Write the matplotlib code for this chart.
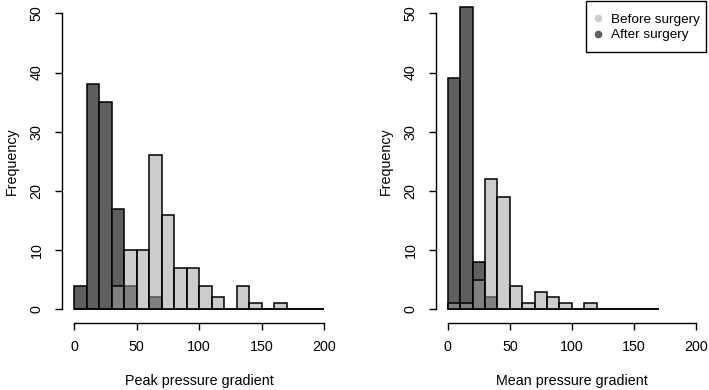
import numpy as np
import matplotlib
matplotlib.use("Agg")
import matplotlib.pyplot as plt
from matplotlib.lines import Line2D
from matplotlib.patches import Rectangle

plt.rcParams['font.family'] = ['Liberation Sans', 'DejaVu Sans']

# ---- data (counts per 10-unit bin) ----
peak_edges = np.arange(0, 210, 10)          # 0..200
peak_before = [0, 0, 0, 4, 10, 10, 26, 16, 7, 7, 4, 2, 0, 4, 1, 0, 1, 0, 0, 0]
peak_after  = [4, 38, 35, 17, 4, 0, 2, 0, 0, 0, 0, 0, 0, 0, 0, 0, 0, 0, 0, 0]

mean_edges = np.arange(0, 180, 10)          # 0..170
mean_before = [1, 1, 5, 22, 19, 4, 1, 3, 2, 1, 0, 1, 0, 0, 0, 0, 0]
mean_after  = [39, 51, 8, 2, 0, 0, 0, 0, 0, 0, 0, 0, 0, 0, 0, 0, 0]

x_ticks = [0, 50, 100, 150, 200]
y_ticks = [0, 10, 20, 30, 40, 50]
x_labels = ["Peak pressure gradient", "Mean pressure gradient"]
legend_labels = ["Before surgery", "After surgery"]

after_color = (95/255, 95/255, 95/255, 1.0)
before_color = (0.62, 0.62, 0.62, 0.525)

W, H = 709, 390
fig = plt.figure(figsize=(W/100, H/100), dpi=100)

def px_axes(x0, x1, y0, y1):
    return fig.add_axes([x0/W, 1 - y1/H, (x1 - x0)/W, (y1 - y0)/H])

axL = px_axes(64, 334.4, 1.5, 321.1)
axR = px_axes(437.8, 706.0, 1.5, 321.1)

panels = [
    (axL, peak_edges, peak_before, peak_after, x_labels[0]),
    (axR, mean_edges, mean_before, mean_after, x_labels[1]),
]

FS = 10.3
for ax, edges, before, after, xl in panels:
    ax.bar(edges[:-1], after, width=10, align='edge', color=after_color,
           edgecolor='black', linewidth=1.1, zorder=2)
    ax.bar(edges[:-1], before, width=10, align='edge', color=before_color,
           edgecolor='black', linewidth=1.1, zorder=3)
    ax.set_xlim(-8, 208)
    ax.set_ylim(-2, 52)
    for s in ['top', 'right']:
        ax.spines[s].set_visible(False)
    ax.spines['left'].set_bounds(0, 50)
    ax.spines['bottom'].set_bounds(0, 200)
    ax.spines['left'].set_position(('outward', 1.5))
    ax.spines['bottom'].set_position(('outward', 1.2))
    for s in ['left', 'bottom']:
        ax.spines[s].set_linewidth(1.0)
    ax.set_xticks(x_ticks)
    ax.set_yticks(y_ticks)
    ax.tick_params(axis='both', length=5.2, width=1.0, labelsize=FS)
    ax.tick_params(axis='x', pad=7.5)
    ax.tick_params(axis='y', pad=8)
    for lab in ax.get_yticklabels():
        lab.set_rotation(90)
        lab.set_va('center')
    pos = ax.get_position()
    cx = pos.x0 + pos.width / 2
    fig.text(cx, 1 - 381/H, xl, ha='center', va='center', fontsize=FS)
    fig.text(pos.x0 - 52/W, 1 - 161.3/H, "Frequency", rotation=90,
             ha='center', va='center', fontsize=FS)

# legend: frame drawn as a rectangle, entries placed inside it
fig.patches.append(Rectangle((586/W, 1 - 52/H), 120/W, 51/H,
                             transform=fig.transFigure, fill=True,
                             facecolor='white', edgecolor='black',
                             linewidth=1.0, zorder=5))
handles = [
    Line2D([], [], linestyle='none', marker='o', markersize=4.5,
           markerfacecolor=(0.8, 0.8, 0.8), markeredgecolor=(0.8, 0.8, 0.8)),
    Line2D([], [], linestyle='none', marker='o', markersize=4.5,
           markerfacecolor=(0.37, 0.37, 0.37), markeredgecolor=(0.37, 0.37, 0.37)),
]
leg = fig.legend(handles, legend_labels, loc='center left',
                 bbox_to_anchor=(594/W, 1 - 27.5/H),
                 bbox_transform=fig.transFigure, borderaxespad=0,
                 borderpad=0, fontsize=9.7, frameon=False,
                 handlelength=0.65, handletextpad=0.6, labelspacing=0.2)
leg.set_zorder(6)

fig.savefig("out.png", dpi=100)
